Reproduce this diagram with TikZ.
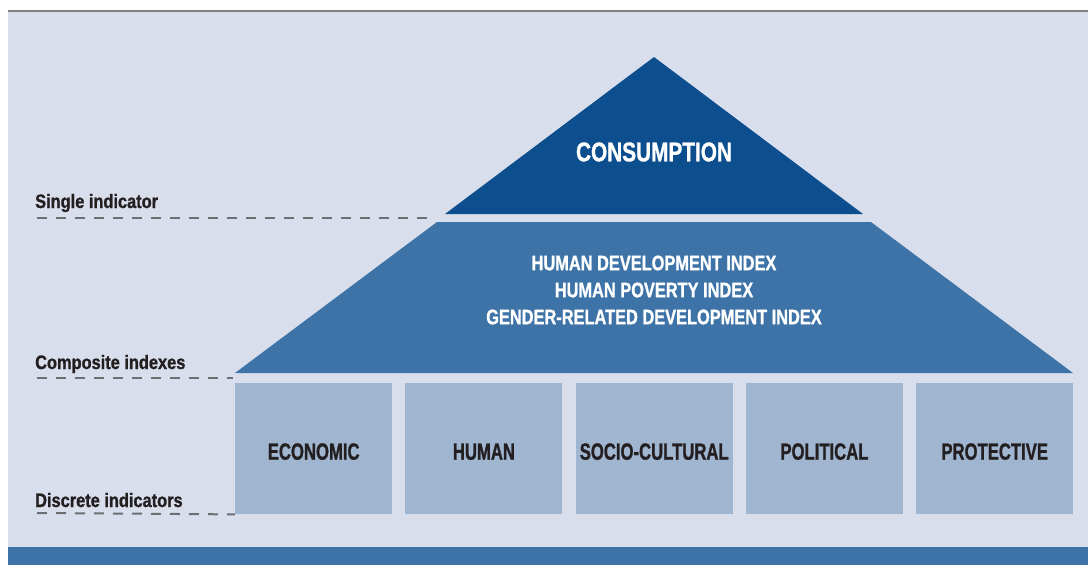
\documentclass[tikz,border=0pt]{standalone}
\usepackage{fontspec}
\newfontfamily\labelfont[FakeStretch=0.84,FakeBold=1]{Liberation Sans Bold}
\newfontfamily\titlefont[FakeStretch=0.77,FakeBold=1]{Liberation Sans Bold}
\newfontfamily\indexfont[FakeStretch=0.78,FakeBold=1]{Liberation Sans Bold}
\newfontfamily\pillarfont[FakeStretch=0.71,FakeBold=1]{Liberation Sans Bold}
\definecolor{panelbg}{HTML}{D8DEEC}
\definecolor{topblue}{HTML}{0D4F8E}
\definecolor{midblue}{HTML}{3D73A7}
\definecolor{boxblue}{HTML}{A0B5D0}
\definecolor{labeltext}{HTML}{231F20}
\definecolor{guidegray}{HTML}{6D6E71}
\tikzset{
  levellabel/.style={anchor=base west, inner sep=0pt, text=labeltext, font=\labelfont\fontsize{19.5}{23}\selectfont},
  guide/.style={draw=guidegray, line width=2pt, dash pattern=on 10pt off 9pt},
  pillar/.style={fill=boxblue, minimum width=157pt, minimum height=131pt, inner sep=0pt, text height=22pt, text depth=0pt, anchor=north west, text=labeltext, font=\pillarfont\fontsize{23.5}{27}\selectfont},
}
\begin{document}
\begin{tikzpicture}[x=1pt,y=-1pt]
\useasboundingbox (0,0) rectangle (1088,565);
\fill[white] (0,0) rectangle (1088,565);
\fill[panelbg] (8,12) rectangle (1088,565);
\draw[gray, line width=1.5pt] (8,11) -- (1088,11);
\fill[midblue] (8,547) rectangle (1088,565);
\fill[topblue] (654,57) -- (863,214) -- (445,214) -- cycle;
\fill[midblue] (437,222) -- (871,222) -- (1073,373) -- (235,373) -- cycle;
\node[text=white, font=\titlefont\fontsize{27}{32}\selectfont] (cons) at (654,152) {CONSUMPTION};
\node[text=white, align=center, font=\indexfont\fontsize{21}{27}\selectfont] (index) at (654,290) {HUMAN DEVELOPMENT INDEX\\HUMAN POVERTY INDEX\\GENDER-RELATED DEVELOPMENT INDEX};
\node[pillar] (econ) at (235,383) {ECONOMIC};
\node[pillar] (human) at (405.25,383) {HUMAN};
\node[pillar] (socio) at (575.5,383) {SOCIO-CULTURAL};
\node[pillar] (polit) at (745.75,383) {POLITICAL};
\node[pillar] (protect) at (916,383) {PROTECTIVE};
\node[levellabel] (single) at (35,208) {Single indicator};
\node[levellabel] (composite) at (35,369) {Composite indexes};
\node[levellabel] (discrete) at (35,507) {Discrete indicators};
\coordinate (single end) at (430,218);
\coordinate (composite end) at (233,378);
\draw[guide] (37,218) -- (single end);
\draw[guide] (37,378) -- (composite end);
\draw[guide] (37,513) -- (econ.south west);
\end{tikzpicture}
\end{document}
